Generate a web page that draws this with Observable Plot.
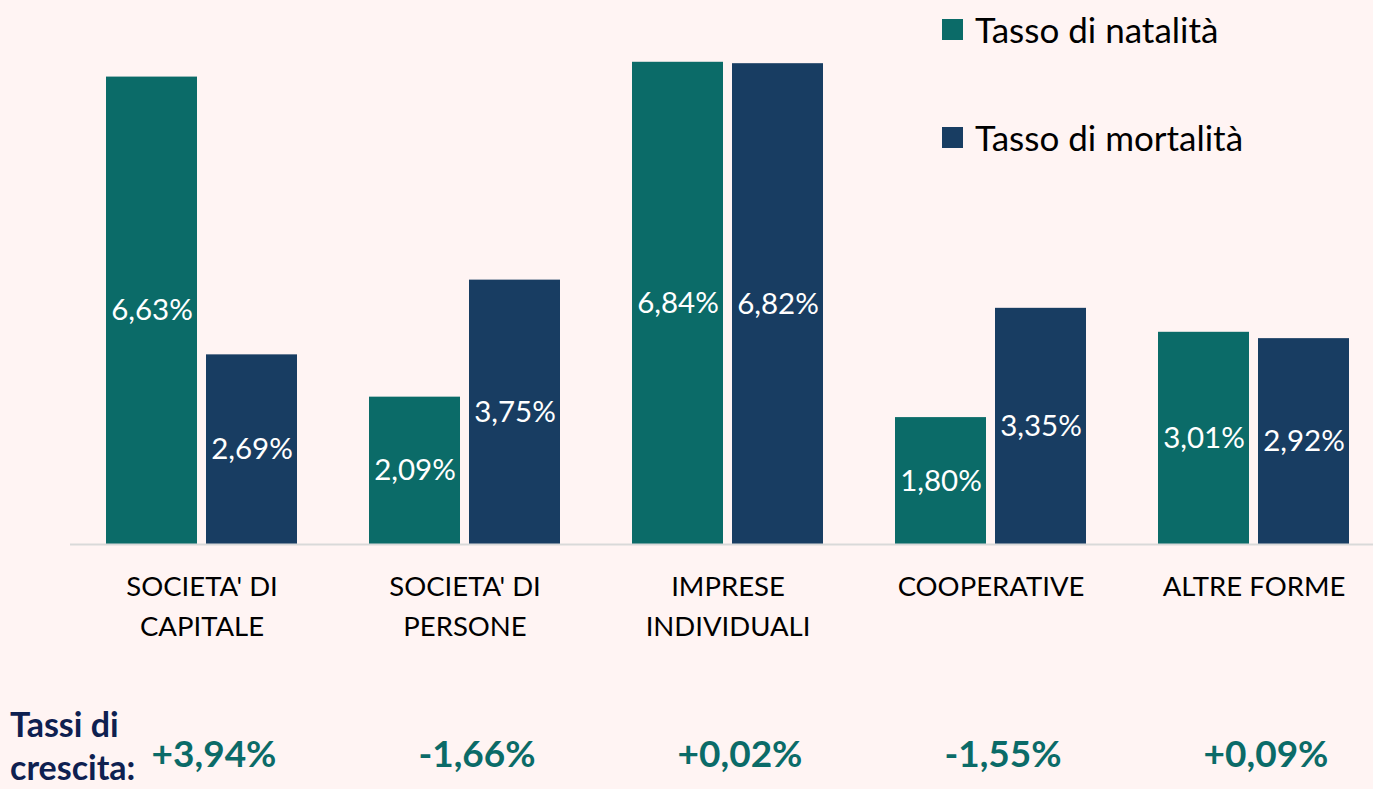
<!DOCTYPE html>
<html><head><meta charset="utf-8">
<script src="https://cdn.jsdelivr.net/npm/d3@7"></script>
<script src="https://cdn.jsdelivr.net/npm/@observablehq/plot@0.6"></script>
<style>
html,body{margin:0;padding:0;background:#FFF4F3;}
#wrap{position:relative;width:1373px;height:789px;overflow:hidden;font-family:Lato, sans-serif;}
#wrap svg{position:absolute;left:0;top:0;}
.leg{position:absolute;left:942px;display:flex;align-items:center;font-size:35px;line-height:40px;color:#000;}
.sw{width:21px;height:21px;margin-right:12px;}
#tc{position:absolute;left:10px;top:702px;font-weight:bold;color:#0E2050;font-size:34px;line-height:43px;}
</style></head><body><div id="wrap"></div>
<script>
const categories = ["SOCIETA' DI CAPITALE", "SOCIETA' DI PERSONE", "IMPRESE INDIVIDUALI", "COOPERATIVE", "ALTRE FORME"];
const categoryLabels = ["SOCIETA' DI\nCAPITALE", "SOCIETA' DI\nPERSONE", "IMPRESE\nINDIVIDUALI", "COOPERATIVE", "ALTRE FORME"];
const natalita = [6.63, 2.09, 6.84, 1.80, 3.01];
const mortalita = [2.69, 3.75, 6.82, 3.35, 2.92];
const crescita = ["+3,94%", "-1,66%", "+0,02%", "-1,55%", "+0,09%"];
const seriesNames = ["Tasso di natalità", "Tasso di mortalità"];
const colors = ["#0B6B68", "#183D62"];

const fmt = v => v.toFixed(2).replace(".", ",") + "%";
const nat = categories.map((c, i) => ({cat: c, v: natalita[i]}));
const mort = categories.map((c, i) => ({cat: c, v: mortalita[i]}));
const growth = categories.map((c, i) => ({cat: c, t: crescita[i]}));

const chart = Plot.plot({
  width: 1373, height: 789,
  marginTop: 50.5, marginBottom: 245, marginLeft: 70, marginRight: 0,
  style: {background: "transparent", fontFamily: "Lato, sans-serif", overflow: "visible"},
  x: {domain: categories, range: [70, 1385], paddingInner: 0.274, paddingOuter: 0.137},
  y: {domain: [0, 7], axis: null},
  marks: [
    Plot.barY(nat, {x: "cat", y: "v", fill: colors[0], insetRight: 100}),
    Plot.barY(mort, {x: "cat", y: "v", fill: colors[1], insetLeft: 100}),
    Plot.ruleY([0], {stroke: "#D9D9D9", strokeWidth: 2}),
    Plot.text(nat, {x: "cat", y: d => d.v / 2, text: d => fmt(d.v), dx: -50, fill: "white", fontSize: 29.5}),
    Plot.text(mort, {x: "cat", y: d => d.v / 2, text: d => fmt(d.v), dx: 50, fill: "white", fontSize: 29.5}),
    Plot.axisX({tickSize: 0, tickPadding: 23, tickFormat: d => categoryLabels[categories.indexOf(d)], fontSize: 27.5, lineHeight: 1.45, fill: "#000", label: null}),
    Plot.text(growth, {x: "cat", text: "t", frameAnchor: "bottom", dx: 12, dy: 222, fill: colors[0], fontWeight: "bold", fontSize: 37})
  ]
});
const wrap = document.getElementById("wrap");
wrap.appendChild(chart);
seriesNames.forEach((s, i) => {
  const d = document.createElement("div");
  d.className = "leg";
  d.style.top = (9 + i * 108) + "px";
  d.innerHTML = `<span class="sw" style="background:${colors[i]}"></span><span>${s}</span>`;
  wrap.appendChild(d);
});
const tc = document.createElement("div");
tc.id = "tc";
tc.innerHTML = "Tassi di<br>crescita:";
wrap.appendChild(tc);
</script></body></html>
